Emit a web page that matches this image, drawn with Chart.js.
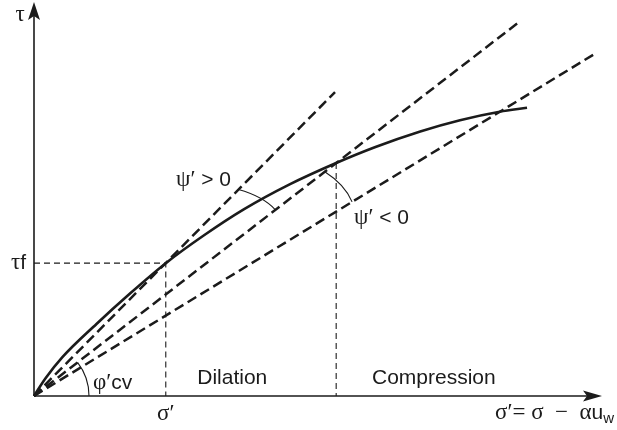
<!DOCTYPE html>
<html>
<head>
<meta charset="utf-8">
<script src="https://cdn.jsdelivr.net/npm/chart.js@4.4.1/dist/chart.umd.min.js"></script>
<style>
  html, body { margin: 0; padding: 0; background: #fff; }
  canvas { display: block; }
</style>
</head>
<body>
<canvas id="c" width="617" height="430"></canvas>
<script>
// Shear strength envelope tau against effective normal stress sigma'
const strengthX = [0, 2, 5, 11, 17, 23.2, 30, 37, 45, 53.2, 60, 68, 75, 82, 86.8];
const strengthY = [0, 3.1, 6.9, 12.8, 18.3, 23.6, 28.6, 33.2, 37.6, 41.4, 44.2, 47.0, 49.0, 50.5, 51.2];

// Straight lines from the origin (end point of each ray)
const rayEndX = [53.0, 85.6, 98.9];
const rayEndY = [54.0, 66.6, 60.9];

// Failure point (sigma', tau_f) and the point where compression starts
const failX = 23.2, failY = 23.6;
const compX = 53.2, compY = 41.4;

const INK = '#1b1b1b';
const SANS = '"Liberation Sans", Arial, sans-serif';
const SERIF = '"Liberation Serif", "Times New Roman", serif';

const pts = (xs, ys) => xs.map((x, i) => ({ x, y: ys[i] }));

const datasets = [
  {
    data: pts(strengthX, strengthY),
    borderColor: INK, borderWidth: 2.6,
    cubicInterpolationMode: 'monotone', pointRadius: 0
  },
  ...rayEndX.map((x, i) => ({
    data: [{ x: 0, y: 0 }, { x, y: rayEndY[i] }],
    borderColor: INK, borderWidth: 2.5, borderDash: [10, 5], pointRadius: 0
  })),
  {
    data: [{ x: 0, y: failY }, { x: failX, y: failY }, { x: failX, y: 0 }],
    borderColor: INK, borderWidth: 1.1, borderDash: [6, 4], pointRadius: 0
  },
  {
    data: [{ x: compX, y: compY }, { x: compX, y: 0 }],
    borderColor: INK, borderWidth: 1.1, borderDash: [6, 4], pointRadius: 0
  }
];

// Text built from runs of different fonts (Greek in serif, latin in sans)
function drawRuns(ctx, runs, x, y, align) {
  let total = 0;
  runs.forEach(r => { ctx.font = r.font; total += ctx.measureText(r.t).width; });
  let cx = align === 'right' ? x - total : align === 'center' ? x - total / 2 : x;
  ctx.textBaseline = 'middle';
  ctx.textAlign = 'left';
  runs.forEach(r => {
    ctx.font = r.font;
    ctx.fillText(r.t, cx, y + (r.dy || 0));
    cx += ctx.measureText(r.t).width;
  });
}

const overlay = {
  id: 'overlay',
  beforeDraw(chart) {
    const ctx = chart.ctx;
    ctx.save();
    ctx.fillStyle = '#fff';
    ctx.fillRect(0, 0, chart.width, chart.height);
    ctx.restore();
  },
  afterDatasetsDraw(chart) {
    const ctx = chart.ctx;
    const xs = chart.scales.x, ys = chart.scales.y;
    const px = v => xs.getPixelForValue(v), py = v => ys.getPixelForValue(v);
    const ox = px(0), oy = py(0);
    const right = chart.chartArea.right, top = chart.chartArea.top;

    ctx.save();
    ctx.strokeStyle = INK;
    ctx.fillStyle = INK;

    // axes
    ctx.lineWidth = 1.6;
    ctx.beginPath();
    ctx.moveTo(ox, oy); ctx.lineTo(ox, top + 8);
    ctx.moveTo(ox, oy); ctx.lineTo(right - 8, oy);
    ctx.stroke();

    // arrow heads
    ctx.beginPath();
    ctx.moveTo(ox, top);
    ctx.lineTo(ox + 6, top + 18);
    ctx.lineTo(ox, top + 14);
    ctx.lineTo(ox - 6, top + 18);
    ctx.closePath();
    ctx.fill();
    ctx.beginPath();
    ctx.moveTo(right, oy);
    ctx.lineTo(right - 19, oy - 5.5);
    ctx.lineTo(right - 15, oy);
    ctx.lineTo(right - 19, oy + 5.5);
    ctx.closePath();
    ctx.fill();

    // point on ray i at a given data x
    const onRay = (i, x) => ({ x: px(x), y: py(x * rayEndY[i] / rayEndX[i]) });

    ctx.lineWidth = 1.1;
    // phi'cv: arc about the origin up to the middle ray
    const a1 = Math.atan2(py(rayEndY[1]) - oy, px(rayEndX[1]) - ox);
    ctx.beginPath(); ctx.arc(ox, oy, 55, a1, 0); ctx.stroke();

    // psi' > 0: between the steep ray and the middle ray
    let s = onRay(0, 36.0), e = onRay(1, 42.5);
    ctx.beginPath(); ctx.moveTo(s.x, s.y);
    ctx.quadraticCurveTo(e.x - 12, s.y + 7, e.x, e.y); ctx.stroke();

    // psi' < 0: between the middle ray and the lowest ray
    s = onRay(1, 51.2); e = onRay(2, 56.0);
    ctx.beginPath(); ctx.moveTo(s.x, s.y);
    ctx.quadraticCurveTo(e.x - 7, s.y + 13, e.x, e.y); ctx.stroke();

    // labels
    const g = '23px ' + SERIF;
    const t = '21px ' + SANS;

    drawRuns(ctx, [{ t: 'τ', font: g }], ox - 14, top + 13, 'center');
    drawRuns(ctx, [{ t: 'τ', font: g }, { t: 'f', font: t }], ox - 8, py(failY), 'right');
    drawRuns(ctx, [{ t: 'σ′', font: g }], px(failX), oy + 18, 'center');
    drawRuns(ctx, [{ t: 'φ′', font: g }, { t: 'cv', font: t }], ox + 59, oy - 13, 'left');
    drawRuns(ctx, [{ t: 'Dilation', font: t }], px(34.9), oy - 18, 'center');
    drawRuns(ctx, [{ t: 'Compression', font: t }], px(70.4), oy - 18, 'center');
    drawRuns(ctx, [{ t: 'ψ′', font: g }, { t: ' > 0', font: t }], 176, 180, 'left');
    drawRuns(ctx, [{ t: 'ψ′', font: g }, { t: ' < 0', font: t }], 354, 218, 'left');
    drawRuns(ctx, [
      { t: 'σ′', font: g }, { t: '= σ  −  α', font: g },
      { t: 'u', font: t }, { t: 'w', font: '15px ' + SANS, dy: 6 }
    ], 495, oy + 17, 'left');
    ctx.restore();
  }
};

new Chart(document.getElementById('c'), {
  type: 'line',
  data: { datasets },
  options: {
    responsive: false,
    animation: false,
    devicePixelRatio: 1,
    layout: { padding: { left: 34, right: 15, top: 2, bottom: 34 } },
    scales: {
      x: { type: 'linear', min: 0, max: 100, display: false },
      y: { type: 'linear', min: 0, max: 70, display: false }
    },
    plugins: { legend: { display: false }, tooltip: { enabled: false } },
    elements: { line: { fill: false } },
    datasets: { line: { clip: false } }
  },
  plugins: [overlay]
});
</script>
</body>
</html>
